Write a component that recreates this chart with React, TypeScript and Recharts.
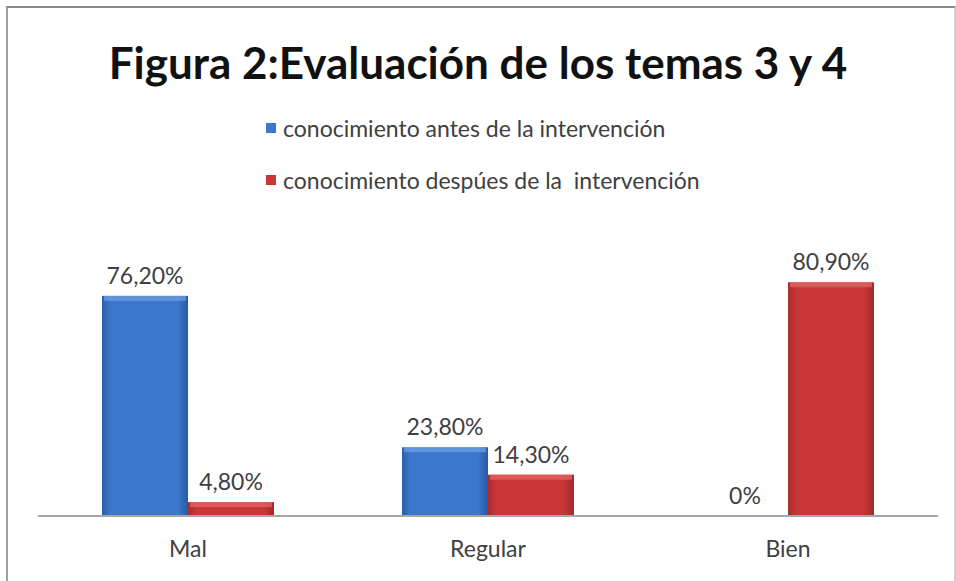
import { BarChart, Bar, XAxis, YAxis, LabelList } from 'recharts';

const categories = ['Mal', 'Regular', 'Bien'];
const antes = [76.2, 23.8, 0];
const despues = [4.8, 14.3, 80.9];
const seriesNames = [
  'conocimiento antes de la intervención',
  'conocimiento despúes de la  intervención',
];
const seriesColors = ['#3b78cc', '#c93638'];

const data = categories.map((c, i) => ({ cat: c, antes: antes[i], despues: despues[i] }));

const FONT = 'Lato, "Open Sans", sans-serif';
const TEXT = '#404040';

const fmt = (v: any) => {
  const n = Number(v);
  if (n === 0) return '0%';
  return n.toFixed(2).replace('.', ',') + '%';
};

// bar with a light bevel along the top edge
function BevelBar(props: any) {
  const { x, y, width, height, fill, top } = props;
  if (!height || height <= 0) return null;
  const bevel = Math.min(5, height / 2);
  return (
    <g>
      <rect x={x} y={y} width={width} height={height} fill={fill} />
      <rect x={x + 2} y={y} width={width - 4} height={bevel} fill={top} opacity={0.7} />
    </g>
  );
}

export default function App() {
  return (
    <div style={{ position: 'absolute', left: 0, top: 0, width: 956, height: 581, background: '#fff', overflow: 'hidden' }}>
      <div
        style={{
          position: 'absolute',
          left: 6,
          top: 6,
          width: 946,
          height: 580,
          borderTop: '2px solid #8a8a8a',
          borderLeft: '2px solid #a0a0a0',
          borderRight: '2px solid #d0d0d0',
        }}
      />
      <div
        style={{
          position: 'absolute',
          left: 0,
          width: 956,
          top: 34,
          textAlign: 'center',
          fontFamily: FONT,
          fontWeight: 700,
          fontSize: 44,
          color: '#111',
          lineHeight: '56px',
        }}
      >
        Figura 2:Evaluación de los temas 3 y 4
      </div>
      {/* legend */}
      <div style={{ position: 'absolute', left: 266, top: 102, fontFamily: FONT, fontSize: 23, color: TEXT }}>
        {seriesNames.map((n, i) => (
          <div key={n} style={{ display: 'flex', alignItems: 'center', height: 52, whiteSpace: 'pre' }}>
            <span style={{ width: 10, height: 10, background: seriesColors[i], marginRight: 7, display: 'inline-block' }} />
            {n}
          </div>
        ))}
      </div>
      <BarChart
        width={956}
        height={581}
        data={data}
        margin={{ top: 256, right: 18, bottom: 0, left: 38 }}
        barCategoryGap={64}
        barGap={0}
        style={{ position: 'absolute', left: 0, top: 0 }}
      >
        <defs>
          <linearGradient id="gBlue" x1="0" y1="0" x2="1" y2="0">
            <stop offset="0" stopColor="#2b5fae" />
            <stop offset="0.1" stopColor="#3b78cc" />
            <stop offset="0.88" stopColor="#3b78cc" />
            <stop offset="1" stopColor="#2a5aa3" />
          </linearGradient>
          <linearGradient id="gRed" x1="0" y1="0" x2="1" y2="0">
            <stop offset="0" stopColor="#a82c2e" />
            <stop offset="0.1" stopColor="#c93638" />
            <stop offset="0.88" stopColor="#c93638" />
            <stop offset="1" stopColor="#a22a2c" />
          </linearGradient>
        </defs>
        <XAxis
          dataKey="cat"
          height={65}
          tickLine={false}
          axisLine={{ stroke: '#a6a6a6', strokeWidth: 2 }}
          tick={{ fontFamily: FONT, fontSize: 23, fill: TEXT }}
          tickMargin={19}
        />
        <YAxis hide domain={[0, 90]} />
        <Bar
          dataKey="antes"
          name={seriesNames[0]}
          fill="url(#gBlue)"
          shape={(p: any) => <BevelBar {...p} fill="url(#gBlue)" top="#6fa0e4" />}
          isAnimationActive={false}
        >
          <LabelList dataKey="antes" position="top" offset={12} formatter={fmt} style={{ fontFamily: FONT, fontSize: 23, fill: TEXT }} />
        </Bar>
        <Bar
          dataKey="despues"
          name={seriesNames[1]}
          fill="url(#gRed)"
          shape={(p: any) => <BevelBar {...p} fill="url(#gRed)" top="#e46a6a" />}
          isAnimationActive={false}
        >
          <LabelList dataKey="despues" position="top" offset={12} formatter={fmt} style={{ fontFamily: FONT, fontSize: 23, fill: TEXT }} />
        </Bar>
      </BarChart>
    </div>
  );
}
